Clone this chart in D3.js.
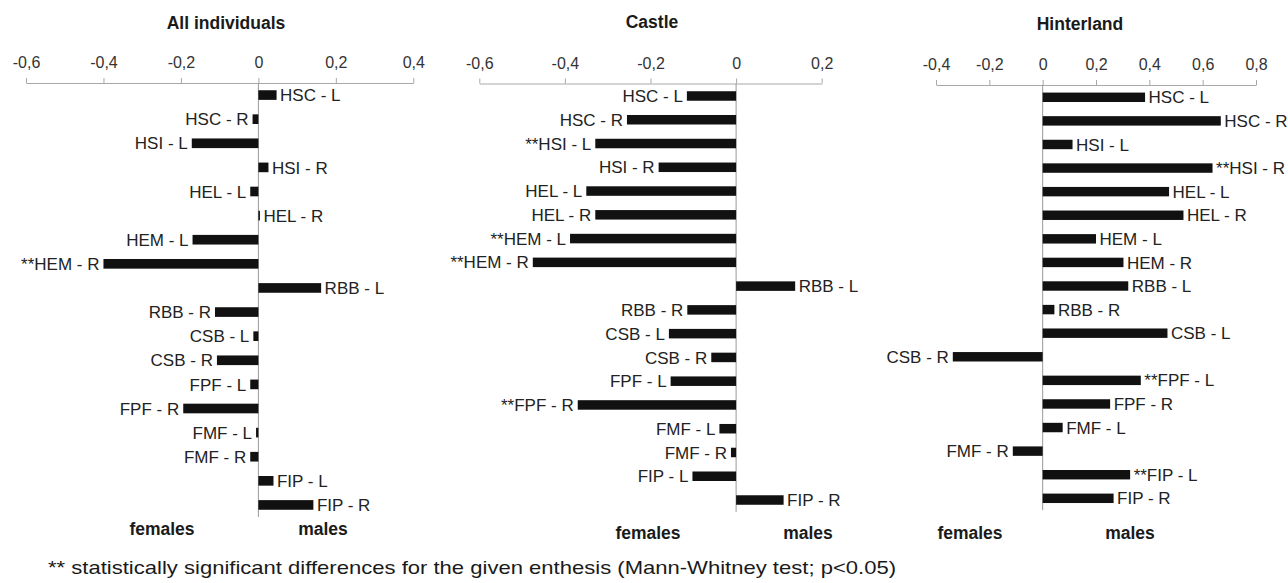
<!DOCTYPE html>
<html>
<head>
<meta charset="utf-8">
<script src="https://cdn.jsdelivr.net/npm/d3@7"></script>
<style>
  html, body { margin: 0; padding: 0; background: #fff; }
  svg { display: block; font-family: "Liberation Sans", Arial, Helvetica, sans-serif; }
</style>
</head>
<body>
<svg id="chart" width="1288" height="583"></svg>
<script>
// ---- data ----
const categories = ["HSC - L","HSC - R","HSI - L","HSI - R","HEL - L","HEL - R","HEM - L","HEM - R","RBB - L","RBB - R","CSB - L","CSB - R","FPF - L","FPF - R","FMF - L","FMF - R","FIP - L","FIP - R"];

const allValues      = [0.047,-0.015,-0.172,0.026,-0.021,0.004,-0.170,-0.400,0.162,-0.112,-0.013,-0.107,-0.021,-0.194,-0.006,-0.021,0.039,0.142];
const castleValues   = [-0.115,-0.255,-0.329,-0.181,-0.350,-0.329,-0.388,-0.475,0.138,-0.114,-0.157,-0.058,-0.153,-0.370,-0.039,-0.012,-0.102,0.111];
const hinterlandValues = [0.384,0.668,0.112,0.637,0.474,0.528,0.200,0.303,0.321,0.044,0.468,-0.337,0.368,0.253,0.075,-0.112,0.328,0.266];

const allSignificant        = ["HEM - R"];
const castleSignificant     = ["HSI - L","HEM - L","HEM - R","FPF - R"];
const hinterlandSignificant = ["HSI - R","FPF - L","FIP - L"];

const allTicks        = [-0.6,-0.4,-0.2,0,0.2,0.4];
const castleTicks     = [-0.6,-0.4,-0.2,0,0.2];
const hinterlandTicks = [-0.4,-0.2,0,0.2,0.4,0.6,0.8];

const panelTitles = ["All individuals","Castle","Hinterland"];
const sideLabels = ["females","males"];
const footnote = "** statistically significant differences for the given enthesis (Mann-Whitney test; p<0.05)";

// ---- layout ----
const panels = [
  { title: panelTitles[0], values: allValues, sig: allSignificant, ticks: allTicks,
    x0: 26, x1: 413.3, axisY: 83, yTop: 83, yBot: 517, titleX: 226, titleY: 29,
    femX: 162, malX: 323, sideY: 535 },
  { title: panelTitles[1], values: castleValues, sig: castleSignificant, ticks: castleTicks,
    x0: 479.3, x1: 821.7, axisY: 83.5, yTop: 84.1, yBot: 511.9, titleX: 652, titleY: 28,
    femX: 648, malX: 808, sideY: 539 },
  { title: panelTitles[2], values: hinterlandValues, sig: hinterlandSignificant, ticks: hinterlandTicks,
    x0: 936, x1: 1256, axisY: 85, yTop: 85.5, yBot: 510.1, titleX: 1080, titleY: 30,
    femX: 970, malX: 1130, sideY: 539 }
];

const svg = d3.select("#chart");
const fmt = d => d === 0 ? "0" : String(d).replace(".", ",");

panels.forEach(p => {
  const x = d3.scaleLinear()
    .domain([p.ticks[0], p.ticks[p.ticks.length - 1]])
    .range([p.x0, p.x1]);
  const y = d3.scaleBand()
    .domain(categories)
    .range([p.yTop, p.yBot])
    .paddingInner(0.6)
    .paddingOuter(0.3);

  const g = svg.append("g");

  // title
  g.append("text")
    .attr("x", p.titleX).attr("y", p.titleY)
    .attr("text-anchor", "middle")
    .attr("font-size", 17.5).attr("font-weight", "bold")
    .attr("fill", "#1a1a1a")
    .text(p.title);

  // top axis
  const axis = d3.axisTop(x)
    .tickValues(p.ticks)
    .tickFormat(fmt)
    .tickSize(5)
    .tickSizeOuter(0)
    .tickPadding(10);
  const ag = g.append("g")
    .attr("transform", `translate(0,${p.axisY})`)
    .call(axis);
  ag.select(".domain").attr("stroke", "#a8a8a8").attr("stroke-width", 1);
  ag.selectAll(".tick line").attr("stroke", "#a8a8a8");
  ag.selectAll(".tick text")
    .attr("font-size", 16)
    .attr("font-family", "Liberation Sans, Arial, sans-serif")
    .attr("fill", "#333");

  // zero line
  g.append("line")
    .attr("x1", x(0)).attr("x2", x(0))
    .attr("y1", p.axisY).attr("y2", p.yBot)
    .attr("stroke", "#999").attr("stroke-width", 1);

  const data = categories.map((c, i) => ({ c, v: p.values[i], s: p.sig.includes(c) }));

  // bars
  g.selectAll("rect.bar").data(data).enter().append("rect")
    .attr("class", "bar")
    .attr("x", d => Math.min(x(0), x(d.v)))
    .attr("y", d => y(d.c))
    .attr("width", d => Math.max(1.5, Math.abs(x(d.v) - x(0))))
    .attr("height", y.bandwidth())
    .attr("fill", "#111");

  // labels
  g.selectAll("text.lab").data(data).enter().append("text")
    .attr("class", "lab")
    .attr("x", d => d.v >= 0 ? Math.max(x(d.v), x(0) + 1.5) + 3.5 : x(d.v) - 4)
    .attr("y", d => y(d.c) + y.bandwidth() / 2)
    .attr("dy", "0.36em")
    .attr("text-anchor", d => d.v >= 0 ? "start" : "end")
    .attr("font-size", 17)
    .attr("fill", "#222")
    .text(d => (d.s ? "**" : "") + d.c);

  // females / males
  g.append("text")
    .attr("x", p.femX).attr("y", p.sideY)
    .attr("text-anchor", "middle")
    .attr("font-size", 17.5).attr("font-weight", "bold").attr("fill", "#1a1a1a")
    .text(sideLabels[0]);
  g.append("text")
    .attr("x", p.malX).attr("y", p.sideY)
    .attr("text-anchor", "middle")
    .attr("font-size", 17.5).attr("font-weight", "bold").attr("fill", "#1a1a1a")
    .text(sideLabels[1]);
});

// footnote
svg.append("text")
  .attr("x", 48).attr("y", 574)
  .attr("font-size", 19)
  .attr("fill", "#1a1a1a")
  .attr("textLength", 848)
  .attr("lengthAdjust", "spacingAndGlyphs")
  .text(footnote);
</script>
</body>
</html>
